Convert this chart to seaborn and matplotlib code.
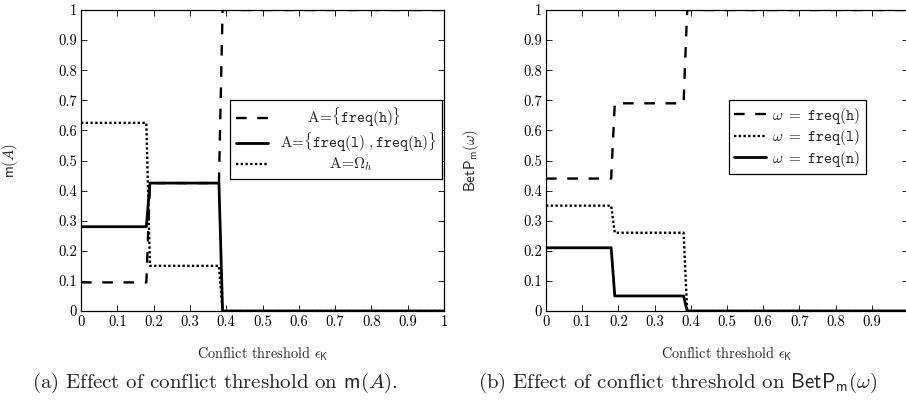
import matplotlib
matplotlib.use('Agg')
import matplotlib.pyplot as plt
import seaborn as sns

# conflict threshold samples (step points)
eps = [0.0, 0.18, 0.19, 0.38, 0.39, 1.0]

# (a) masses m(A)
m_freq_h = [0.095, 0.095, 0.425, 0.425, 1.0, 1.0]
m_freq_lh = [0.28, 0.28, 0.425, 0.425, 0.0, 0.0]
m_omega = [0.625, 0.625, 0.15, 0.15, 0.0, 0.0]

# (b) pignistic probabilities BetP_m(w)
betp_h = [0.44, 0.44, 0.69, 0.69, 1.0, 1.0]
betp_l = [0.35, 0.35, 0.26, 0.26, 0.0, 0.0]
betp_n = [0.21, 0.21, 0.05, 0.05, 0.0, 0.0]

ticks = [0, 0.1, 0.2, 0.3, 0.4, 0.5, 0.6, 0.7, 0.8, 0.9, 1.0]
tick_labels = ['0', '0.1', '0.2', '0.3', '0.4', '0.5', '0.6', '0.7', '0.8', '0.9', '1']

sns.set_style('ticks')
plt.rcParams['font.family'] = 'serif'
plt.rcParams['font.serif'] = ['cmr10']
plt.rcParams['mathtext.fontset'] = 'cm'
plt.rcParams['axes.formatter.use_mathtext'] = True

DASH = (0, (4.5, 4.5))
DOT = (0, (1, 1))
LW = 1.7
LEG_FS = 11

W, H = 906, 401
fig = plt.figure(figsize=(W / 100, H / 100), dpi=100)


def px_axes(left, top, width, height):
    return fig.add_axes([left / W, 1 - (top + height) / H, width / W, height / H])


def style_axes(ax, ylabel, ylab_x, xtl):
    ax.set_xlim(0, 1)
    ax.set_ylim(0, 1)
    ax.set_xticks(ticks)
    ax.set_xticklabels(xtl)
    ax.set_yticks(ticks)
    ax.set_yticklabels(tick_labels)
    ax.tick_params(direction='in', top=True, right=True, length=4.5, width=0.6,
                   labelsize=10.5, pad=3, colors='black')
    for s in ax.spines.values():
        s.set_linewidth(0.9)
        s.set_color('black')
    ax.set_xlabel(r'Conflict threshold $\epsilon_\mathsf{K}$', fontsize=10.3)
    ax.xaxis.set_label_coords(0.5, -0.113)
    ax.set_ylabel(ylabel, fontsize=10.8)
    ax.yaxis.set_label_coords(ylab_x, 0.5)


legend_kw = dict(borderaxespad=0, fontsize=LEG_FS, frameon=True, fancybox=False,
                 edgecolor='black', framealpha=1, handlelength=2.1,
                 labelspacing=0.1, borderpad=0.35)

# left panel
ax1 = px_axes(81, 10, 363, 301)
sns.lineplot(x=eps, y=m_freq_h, ax=ax1, color='black', linewidth=LW, linestyle=DASH,
             label=r'A=$\{\mathtt{freq(h)}\}$')
sns.lineplot(x=eps, y=m_freq_lh, ax=ax1, color='black', linewidth=LW + 0.3,
             label=r'A=$\{\mathtt{freq(l)}\ ,\mathtt{freq(h)}\}$')
sns.lineplot(x=eps, y=m_omega, ax=ax1, color='black', linewidth=LW, linestyle=DOT,
             label=r'A=$\mathit{\Omega}_h$')
style_axes(ax1, r'$\mathsf{m}(A)$', -61 / 363, tick_labels)
leg1 = ax1.legend(loc='upper right', bbox_to_anchor=(0.995, 0.70),
                  handletextpad=0.8, **legend_kw)
leg1.get_frame().set_linewidth(0.9)

# right panel (last x label falls outside the figure in the original)
ax2 = px_axes(546, 10, 362, 301)
sns.lineplot(x=eps, y=betp_h, ax=ax2, color='black', linewidth=LW, linestyle=DASH,
             label=r'$\omega\ =\ \mathtt{freq(h)}$')
sns.lineplot(x=eps, y=betp_l, ax=ax2, color='black', linewidth=LW, linestyle=DOT,
             label=r'$\omega\ =\ \mathtt{freq(l)}$')
sns.lineplot(x=eps, y=betp_n, ax=ax2, color='black', linewidth=LW + 0.3,
             label=r'$\omega\ =\ \mathtt{freq(n)}$')
style_axes(ax2, r'$\mathsf{BetP_m}(\omega)$', -65 / 362, tick_labels[:-1] + [''])
leg2 = ax2.legend(loc='upper left', bbox_to_anchor=(0.505, 0.70),
                  handletextpad=0.4, **legend_kw)
leg2.get_frame().set_linewidth(0.9)

# centre the entries of the left legend like pgfplots does
fig.canvas.draw()
renderer = fig.canvas.get_renderer()
texts = leg1.get_texts()
widths = [t.get_window_extent(renderer).width for t in texts]
em = LEG_FS * fig.dpi / 72
for t, w in zip(texts, widths):
    shift = (max(widths) - w) / 2 / em
    if shift > 0.01:
        t.set_text(r'$\hspace{%.3f}$' % shift + t.get_text())

# captions
fig.text(32 / W, 1 - 383 / H, r'(a) Effect of conflict threshold on $\mathsf{m}(A)$.',
         fontsize=15, ha='left', va='center')
fig.text(478 / W, 1 - 383 / H, r'(b) Effect of conflict threshold on $\mathsf{BetP_m}(\omega)$',
         fontsize=15, ha='left', va='center')

fig.savefig('out.png', dpi=100)
